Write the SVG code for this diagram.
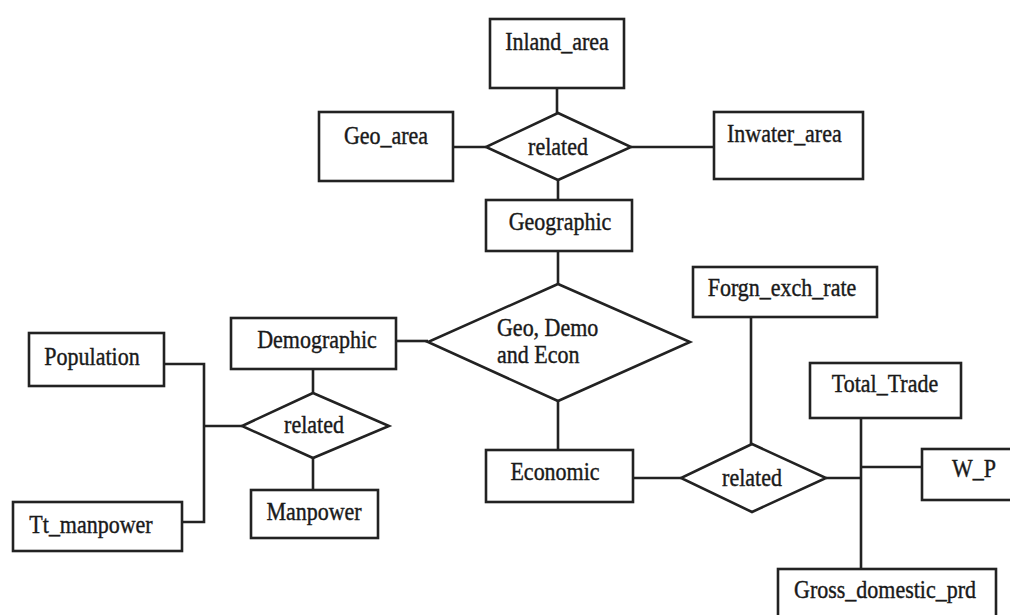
<svg xmlns="http://www.w3.org/2000/svg" width="1010" height="615" viewBox="0 0 1010 615">
  <style>
    .ent { fill: #ffffff; stroke: #222222; stroke-width: 2.6; }
    .rel { fill: #ffffff; stroke: #222222; stroke-width: 2.6; stroke-linejoin: miter; }
    .lbl { font-family: "Liberation Serif", "Times New Roman", serif; font-size: 22px; fill: #1a1a1a; stroke: #1a1a1a; stroke-width: 0.35; text-anchor: middle; }
    .lbl-l { text-anchor: start; }
    #connectors path { fill: none; stroke: #222222; stroke-width: 2.6; }
  </style>
  <rect width="1010" height="615" fill="#ffffff"/>

  <!-- connectors -->
  <g id="connectors">
    <path d="M557 88 V113"/>
    <path d="M453 147 H486"/>
    <path d="M631 147 H714"/>
    <path d="M558 180 V200"/>
    <path d="M558 251 V284"/>
    <path d="M396 341 H428"/>
    <path d="M558 401 V450"/>
    <path d="M313 369 V393"/>
    <path d="M313 458 V490"/>
    <path d="M242 426 H204"/>
    <path d="M164 364 H204 V522 H182"/>
    <path d="M633 478 H681"/>
    <path d="M751 317 V444"/>
    <path d="M826 478 H861"/>
    <path d="M861 418 V569"/>
    <path d="M861 467 H922"/>
  </g>

  <!-- geographic cluster -->
  <g id="inland_area">
    <rect class="ent" x="490" y="19" width="134" height="69"/>
    <text class="lbl" transform="translate(557 50) scale(1 1.15)">Inland_area</text>
  </g>
  <g id="geo_area">
    <rect class="ent" x="319" y="112" width="134" height="69"/>
    <text class="lbl" transform="translate(386 144) scale(1 1.15)">Geo_area</text>
  </g>
  <g id="inwater_area">
    <rect class="ent" x="714" y="112" width="149" height="67"/>
    <text class="lbl lbl-l" transform="translate(727 142) scale(1 1.15)">Inwater_area</text>
  </g>
  <g id="rel_geo">
    <polygon class="rel" points="558,113 631,147 558,180 486,147"/>
    <text class="lbl" transform="translate(558 155) scale(1 1.15)">related</text>
  </g>
  <g id="geographic">
    <rect class="ent" x="486" y="200" width="146" height="51"/>
    <text class="lbl" transform="translate(560 230) scale(1 1.15)">Geographic</text>
  </g>

  <!-- central relationship -->
  <g id="rel_all">
    <polygon class="rel" points="558,284 690,342 558,401 428,342"/>
    <text class="lbl lbl-l" transform="translate(497 336) scale(1 1.15)">Geo, Demo</text>
    <text class="lbl lbl-l" transform="translate(497 363) scale(1 1.15)">and  Econ</text>
  </g>

  <!-- demographic cluster -->
  <g id="demographic">
    <rect class="ent" x="231" y="318" width="165" height="51"/>
    <text class="lbl" transform="translate(317 348) scale(1 1.15)">Demographic</text>
  </g>
  <g id="population">
    <rect class="ent" x="29" y="333" width="135" height="53"/>
    <text class="lbl" transform="translate(92 365) scale(1 1.15)">Population</text>
  </g>
  <g id="rel_demo">
    <polygon class="rel" points="313,393 389,426 313,458 242,426"/>
    <text class="lbl" transform="translate(314 433) scale(1 1.15)">related</text>
  </g>
  <g id="tt_manpower">
    <rect class="ent" x="13" y="502" width="169" height="49"/>
    <text class="lbl" transform="translate(91 533) scale(1 1.15)">Tt_manpower</text>
  </g>
  <g id="manpower">
    <rect class="ent" x="251" y="490" width="127" height="48"/>
    <text class="lbl" transform="translate(314 520) scale(1 1.15)">Manpower</text>
  </g>

  <!-- economic cluster -->
  <g id="economic">
    <rect class="ent" x="486" y="450" width="147" height="52"/>
    <text class="lbl" transform="translate(555 480) scale(1 1.15)">Economic</text>
  </g>
  <g id="forgn_exch_rate">
    <rect class="ent" x="693" y="267" width="184" height="50"/>
    <text class="lbl" transform="translate(782 296) scale(1 1.15)">Forgn_exch_rate</text>
  </g>
  <g id="rel_econ">
    <polygon class="rel" points="752,444 826,478 752,512 681,478"/>
    <text class="lbl" transform="translate(752 486) scale(1 1.15)">related</text>
  </g>
  <g id="total_trade">
    <rect class="ent" x="810" y="363" width="151" height="55"/>
    <text class="lbl" transform="translate(885 392) scale(1 1.15)">Total_Trade</text>
  </g>
  <g id="w_p">
    <rect class="ent" x="922" y="449" width="100" height="51"/>
    <text class="lbl" transform="translate(974 477) scale(1 1.15)">W_P</text>
  </g>
  <g id="gross_domestic_prd">
    <rect class="ent" x="778" y="569" width="218" height="60"/>
    <text class="lbl" transform="translate(885 598) scale(1 1.15)">Gross_domestic_prd</text>
  </g>
</svg>
